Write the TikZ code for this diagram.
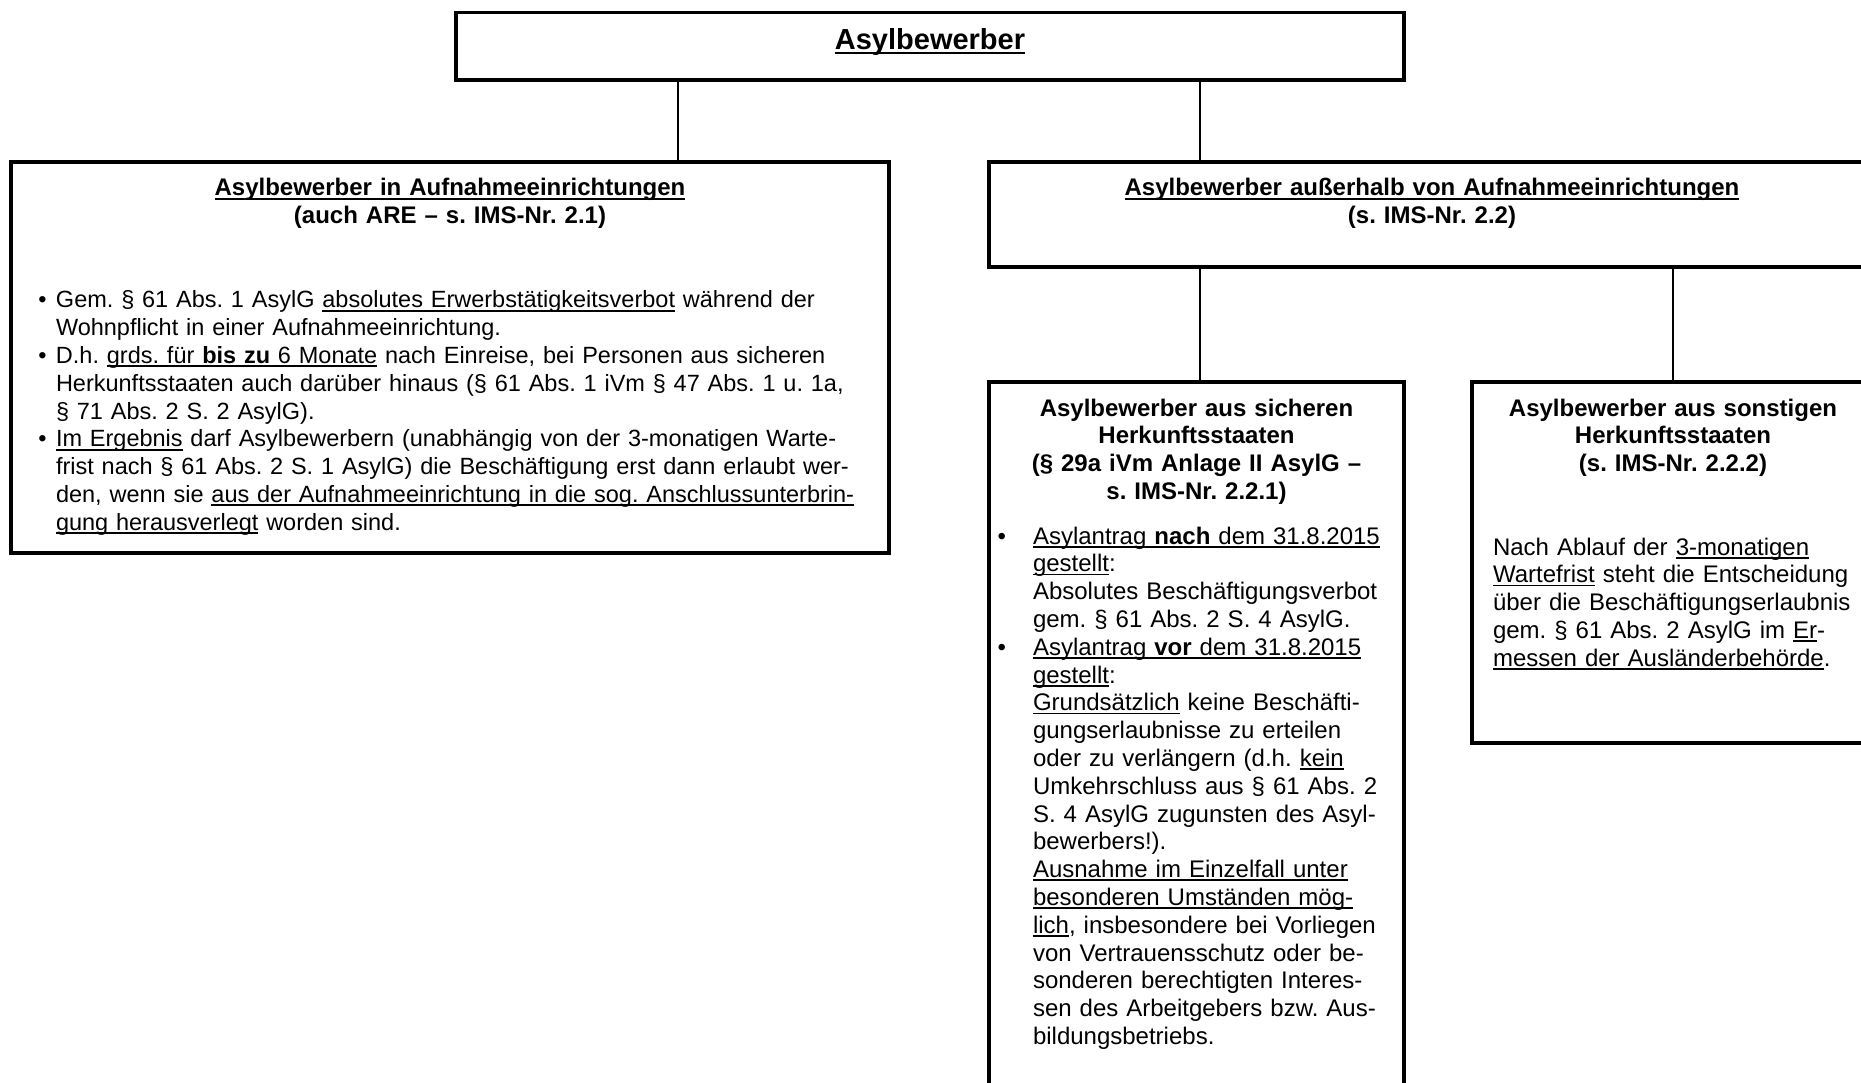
\documentclass[tikz,border=0pt]{standalone}
\usepackage{fontspec}
\setmainfont{Liberation Sans}
\frenchspacing
\newcommand\ulx[1]{\leavevmode\setbox0=\hbox{#1}\rlap{\rule[-3.6pt]{\wd0}{1.8pt}}\box0\relax}
\newcommand\ulT[1]{\leavevmode\setbox0=\hbox{#1}\rlap{\rule[-4.4pt]{\wd0}{2.4pt}}\box0\relax}
\newcommand\bulA{\leavevmode\llap{•\hspace{9.5pt}}}
\newcommand\bulB{\leavevmode\llap{•\hspace{27pt}}}
\tikzset{
  box/.style={draw=black, line width=3.3pt, rectangle, inner sep=0pt, outer sep=0pt},
  conn/.style={draw=black, line width=1.6pt},
  txt/.style={inner sep=0pt, outer sep=0pt, font=\fontsize{24}{27.8}\selectfont},
  btxt/.style={inner sep=0pt, outer sep=0pt, font=\fontsize{24}{27.8}\selectfont\bfseries},
}
\begin{document}
\begin{tikzpicture}[x=1pt,y=-1pt]
\clip (0,0) rectangle (1861,1083);
\fill[white] (0,0) rectangle (1861,1083);
% boxes
\node[box, minimum width=948pt, minimum height=67.3pt] (top) at (930,46.35) {};
\node[box, minimum width=878pt, minimum height=391pt] (lbox) at (450,357.5) {};
\node[box, minimum width=886pt, minimum height=105pt] (rbox) at (1432,214.5) {};
\node[box, minimum width=415pt, minimum height=760pt] (sbox) at (1196.5,762) {};
\node[box, minimum width=402pt, minimum height=361pt] (obox) at (1673,562.5) {};
% connectors
\coordinate (c1) at (678,0);
\coordinate (c2) at (1200,0);
\coordinate (c4) at (1673,0);
\draw[conn] (top.south -| c1) -- (lbox.north -| c1);
\draw[conn] (top.south -| c2) -- (rbox.north -| c2);
\draw[conn] (rbox.south -| c2) -- (sbox.north -| c2);
\draw[conn] (rbox.south -| c4) -- (obox.north -| c4);
% texts
\node[btxt, font=\fontsize{29}{33}\selectfont\bfseries, anchor=base] (ttop) at (930,50) {\ulT{Asylbewerber}};
\node[btxt, text width=860pt, align=center, anchor=base] (lhead) at (450,196)
  {\ulx{Asylbewerber in Aufnahmeeinrichtungen}\\(auch ARE – s. IMS-Nr. 2.1)};
\node[txt, font=\fontsize{23.5}{27.8}\selectfont, text width=820pt, align=left, anchor=base west] (lbody) at (56,308)
  {\bulA Gem. § 61 Abs. 1 AsylG \ulx{absolutes Erwerbstätigkeitsverbot} während der\\
   Wohnpflicht in einer Aufnahmeeinrichtung.\\
   \bulA D.h. \ulx{grds. für \textbf{bis zu} 6 Monate} nach Einreise, bei Personen aus sicheren\\
   Herkunftsstaaten auch darüber hinaus (§ 61 Abs. 1 iVm § 47 Abs. 1 u. 1a,\\
   § 71 Abs. 2 S. 2 AsylG).\\
   \bulA \ulx{Im Ergebnis} darf Asylbewerbern (unabhängig von der 3-monatigen Warte-\\
   frist nach § 61 Abs. 2 S. 1 AsylG) die Beschäftigung erst dann erlaubt wer-\\
   den, wenn sie \ulx{aus der Aufnahmeeinrichtung in die sog. Anschlussunterbrin-}\\
   \ulx{gung herausverlegt} worden sind.};
\node[btxt, text width=860pt, align=center, anchor=base] (rhead) at (1432,196)
  {\ulx{Asylbewerber außerhalb von Aufnahmeeinrichtungen}\\(s. IMS-Nr. 2.2)};
\node[btxt, text width=400pt, align=center, anchor=base] (shead) at (1196.5,416)
  {Asylbewerber aus sicheren\\Herkunftsstaaten\\(§ 29a iVm Anlage II AsylG –\\s. IMS-Nr. 2.2.1)};
\node[txt, text width=365pt, align=left, anchor=base west] (sbody) at (1033,544)
  {\bulB \ulx{Asylantrag \textbf{nach} dem 31.8.2015}\\
   \ulx{gestellt}:\\
   Absolutes Beschäftigungsverbot\\
   gem. § 61 Abs. 2 S. 4 AsylG.\\
   \bulB \ulx{Asylantrag \textbf{vor} dem 31.8.2015}\\
   \ulx{gestellt}:\\
   \ulx{Grundsätzlich} keine Beschäfti-\\
   gungserlaubnisse zu erteilen\\
   oder zu verlängern (d.h. \ulx{kein}\\
   Umkehrschluss aus § 61 Abs. 2\\
   S. 4 AsylG zugunsten des Asyl-\\
   bewerbers!).\\
   \ulx{Ausnahme im Einzelfall unter}\\
   \ulx{besonderen Umständen mög-}\\
   \ulx{lich}, insbesondere bei Vorliegen\\
   von Vertrauensschutz oder be-\\
   sonderen berechtigten Interes-\\
   sen des Arbeitgebers bzw. Aus-\\
   bildungsbetriebs.};
\node[btxt, text width=390pt, align=center, anchor=base] (ohead) at (1673,416)
  {Asylbewerber aus sonstigen\\Herkunftsstaaten\\(s. IMS-Nr. 2.2.2)};
\node[txt, text width=370pt, align=left, anchor=base west] (obody) at (1493,555)
  {Nach Ablauf der \ulx{3-monatigen}\\
   \ulx{Wartefrist} steht die Entscheidung\\
   über die Beschäftigungserlaubnis\\
   gem. § 61 Abs. 2 AsylG im \ulx{Er}-\\
   \ulx{messen der Ausländerbehörde}.};
\end{tikzpicture}
\end{document}
